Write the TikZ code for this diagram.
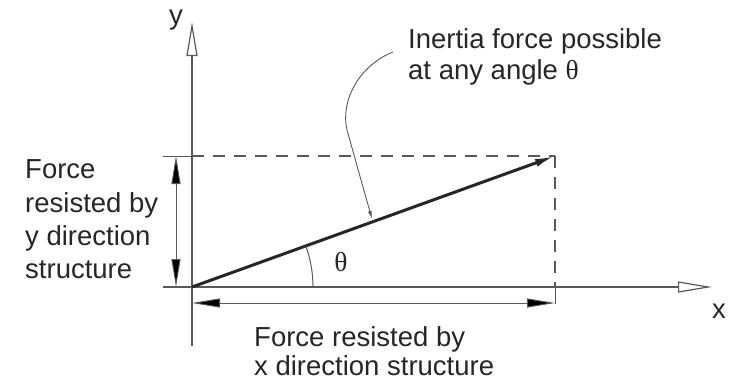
\documentclass[tikz,border=0pt]{standalone}
\usepackage{fontspec}
\setmainfont{Liberation Sans}
\newfontfamily\thetafont{Liberation Serif}
\usetikzlibrary{arrows.meta}
\definecolor{ink}{gray}{0.15}
\definecolor{axisgray}{gray}{0.35}
\newcommand{\uptheta}{{\thetafont θ}}
\tikzset{
  lbl/.style={font=\fontsize{27.5}{33}\selectfont, text=ink, inner sep=0pt, anchor=base west},
  axisline/.style={draw=axisgray, line width=1.3pt},
  axisarrow/.style={axisline, -{Triangle[open, length=34pt, width=11pt, line width=1.2pt]}},
  dimline/.style={draw=axisgray, line width=0.9pt, {Triangle[length=28pt, width=9pt, fill=black]}-{Triangle[length=28pt, width=9pt, fill=black]}},
  extline/.style={draw=axisgray, line width=1pt},
  dashline/.style={draw=axisgray, line width=1.2pt, dash pattern=on 12pt off 9pt},
  vecline/.style={draw=black!85, line width=3pt, -{Latex[length=20pt, width=8pt]}},
  leader/.style={draw=axisgray, line width=0.9pt, -{Latex[length=8pt, width=4pt]}},
}
\begin{document}
\begin{tikzpicture}[x=1pt, y=-1pt]
\useasboundingbox (0,0) rectangle (732,381);
\coordinate (O) at (192,287);
\coordinate (P) at (555,156);
\coordinate (Ytop) at (192,22);
\coordinate (Ybot) at (192,346);
\coordinate (Xleft) at (163,287);
\coordinate (Xright) at (712,287);
\coordinate (Ptop) at (192,156);
\coordinate (Pext) at (163,156);
\coordinate (Paxis) at (555,287);
\coordinate (Pdim) at (555,304);
\coordinate (Yd1) at (176,156);
\coordinate (Yd2) at (176,287);
\coordinate (Xd1) at (192,303);
\coordinate (Xd2) at (555,303);
\coordinate (Lstart) at (393,52);
\coordinate (Lend) at (372,219);
% axes
\draw[axisarrow] (Ybot) -- (Ytop);
\draw[axisarrow] (Xleft) -- (Xright);
% dashed projection lines
\draw[dashline] (Ptop) -- (P);
\draw[dashline] (P) -- (Paxis);
\draw[extline] (Paxis) -- (Pdim);
\draw[extline] (Pext) -- (Ptop);
% dimension lines
\draw[dimline] (Yd1) -- (Yd2);
\draw[dimline] (Xd1) -- (Xd2);
% force vector
\draw[vecline] (O) -- (P);
% angle arc
\draw[extline] (O) ++(121,0) arc[start angle=0, end angle=-19.9, radius=121];
\node[lbl, anchor=center] (th) at (341,262) {\uptheta};
% leader
\draw[leader] (Lstart) .. controls (360,65) and (340,100) .. (347,130) -- (Lend);
% labels
\node[lbl, anchor=base] (ylab) at (176,24) {y};
\node[lbl, anchor=base] (xlab) at (719,318) {x};
\node[lbl] (t1) at (408,48) {Inertia force possible};
\node[lbl] (t2) at (408,79) {at any angle \uptheta};
\node[lbl] (l1) at (25,178) {Force};
\node[lbl] (l2) at (25,212) {resisted by};
\node[lbl] (l3) at (25,245) {y direction};
\node[lbl] (l4) at (25,278) {structure};
\node[lbl] (b1) at (254,346) {Force resisted by};
\node[lbl] (b2) at (254,375) {x direction structure};
\end{tikzpicture}
\end{document}
